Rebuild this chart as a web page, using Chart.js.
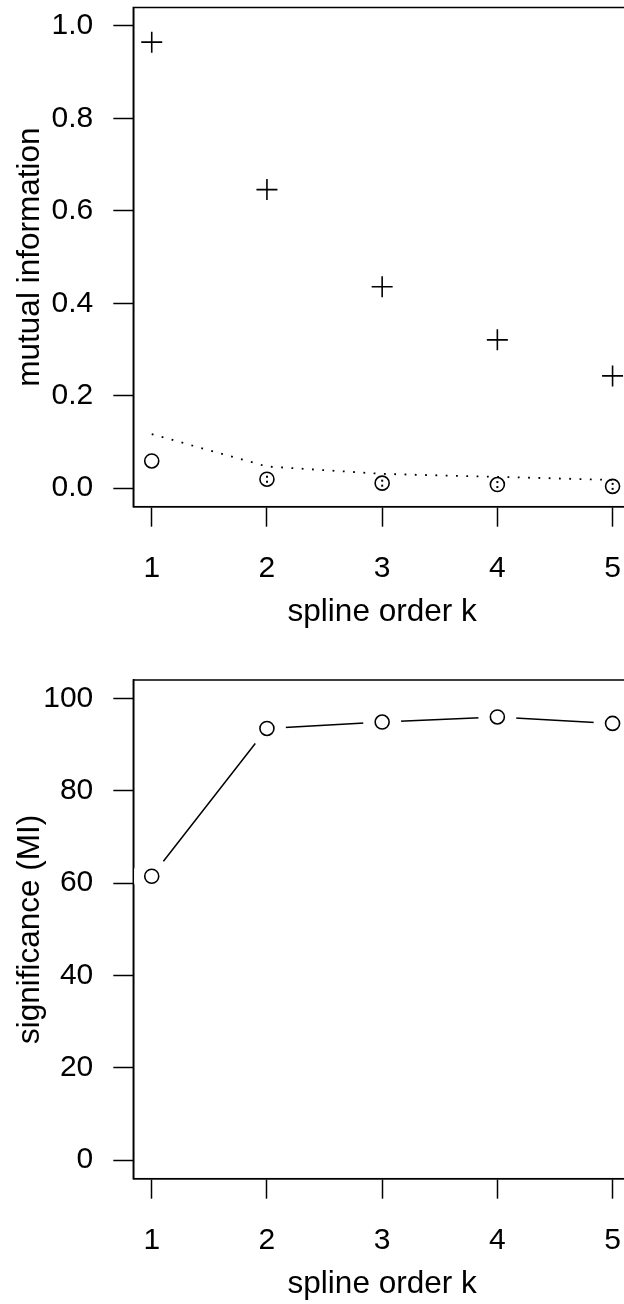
<!DOCTYPE html>
<html>
<head>
<meta charset="utf-8">
<script src="https://cdn.jsdelivr.net/npm/chart.js@4/dist/chart.umd.min.js"></script>
<style>
  html, body { margin: 0; padding: 0; background: #fff; overflow: hidden; width: 624px; height: 1304px; }
  .panel { position: absolute; left: 0; width: 660px; height: 672px; }
  #panelMI { top: 0; }
  #panelSig { top: 672px; }
  canvas { display: block; }
</style>
</head>
<body>
<div class="panel" id="panelMI"><canvas id="miChart" width="660" height="672"></canvas></div>
<div class="panel" id="panelSig"><canvas id="sigChart" width="660" height="672"></canvas></div>
<script>
// spline order k on the x axis
const splineOrders = [1, 2, 3, 4, 5];
const xTicks = [1, 2, 3, 4, 5];

// upper panel: mutual information
const miValues     = [0.965, 0.646, 0.436, 0.321, 0.243];   // "+" marks
const miShuffled   = [0.059, 0.0195, 0.011, 0.008, 0.004];  // open circles
const miSpread     = [null, 0.0195, 0.011, 0.008, 0.004];   // ":" marks
const miThreshold  = [0.117, 0.047, 0.031, 0.0245, 0.018];  // dotted line
const miTicks      = [0, 0.2, 0.4, 0.6, 0.8, 1.0];

// lower panel: significance of the MI
const significance = [61.5, 93.5, 94.9, 96.0, 94.6];
const sigTicks     = [0, 20, 40, 60, 80, 100];

const FAMILY = "'Liberation Sans', Arial, Helvetica, sans-serif";
const TICK_FONT = { family: FAMILY, size: 30 };
const TITLE_FONT = { family: FAMILY, size: 31.5 };
const INK = '#000';

// ":" glyph used as a point marker
const colonMark = document.createElement('canvas');
colonMark.width = 4; colonMark.height = 9;
(function () {
  const g = colonMark.getContext('2d');
  g.fillStyle = INK;
  g.fillRect(1, 1, 2, 2);
  g.fillRect(1, 6, 2, 2);
})();

// frame around the plotting region
const framePlugin = {
  id: 'frame',
  afterDraw(chart) {
    const { ctx, chartArea: a } = chart;
    ctx.save();
    ctx.strokeStyle = INK;
    ctx.lineWidth = 1.5;
    ctx.strokeRect(a.left, a.top, a.right - a.left, a.bottom - a.top);
    ctx.restore();
  }
};

function noPad(s) { s.paddingTop = 0; s.paddingBottom = 0; s.paddingLeft = 0; s.paddingRight = 0; }

function xScale() {
  return {
    type: 'linear',
    min: 0.84, max: 5.16,
    afterBuildTicks: s => { s.ticks = xTicks.map(v => ({ value: v })); },
    afterFit: s => { s.height = 165.3; noPad(s); },
    ticks: { font: TICK_FONT, color: INK, padding: 24, maxRotation: 0, callback: v => String(v) },
    grid: { drawOnChartArea: false, drawTicks: true, tickLength: 20, tickColor: INK, tickWidth: 1.5 },
    border: { display: true, color: INK, width: 1.5 },
    title: { display: true, text: 'spline order k', font: TITLE_FONT, color: INK, padding: { top: 0, bottom: 41.1 } }
  };
}

function yScale(min, max, ticks, title, fmt) {
  return {
    type: 'linear',
    min: min, max: max,
    afterBuildTicks: s => { s.ticks = ticks.map(v => ({ value: v })); },
    afterFit: s => { s.width = 133.3; noPad(s); },
    ticks: { font: TICK_FONT, color: INK, padding: 20, callback: fmt },
    grid: { drawOnChartArea: false, drawTicks: true, tickLength: 20, tickColor: INK, tickWidth: 1.5 },
    border: { display: true, color: INK, width: 1.5 },
    title: { display: true, text: title, font: TITLE_FONT, color: INK, padding: { top: 11.1, bottom: 0 } }
  };
}

function baseOptions(topPad) {
  return {
    responsive: false,
    animation: false,
    devicePixelRatio: 1,
    layout: { autoPadding: false, padding: { left: 0, top: topPad, right: 29, bottom: 0 } },
    plugins: { legend: { display: false }, tooltip: { enabled: false } },
    events: []
  };
}

const pts = arr => splineOrders.map((k, i) => ({ x: k, y: arr[i] }));

new Chart(document.getElementById('miChart'), {
  type: 'scatter',
  data: {
    datasets: [
      { data: pts(miValues), pointStyle: 'cross', pointRadius: 10.5, borderColor: INK, borderWidth: 1.6, showLine: false },
      { data: pts(miShuffled), pointStyle: 'circle', pointRadius: 7, borderColor: INK, backgroundColor: 'rgba(0,0,0,0)', borderWidth: 1.6, showLine: false },
      { data: pts(miSpread), pointStyle: colonMark, pointRadius: 4, showLine: false },
      { data: pts(miThreshold), showLine: true, pointRadius: 0, borderColor: INK, borderWidth: 1.8, borderDash: [1.8, 8.5], borderCapStyle: 'butt', tension: 0 }
    ]
  },
  options: Object.assign(baseOptions(7.5), {
    scales: {
      x: xScale(),
      y: yScale(-0.04, 1.04, miTicks, 'mutual information', v => v.toFixed(1))
    }
  }),
  plugins: [framePlugin]
});

new Chart(document.getElementById('sigChart'), {
  type: 'scatter',
  data: {
    datasets: [
      { data: pts(significance), pointStyle: 'circle', pointRadius: 7, borderColor: INK, backgroundColor: 'rgba(0,0,0,0)', borderWidth: 1.6, showLine: false },
      // connecting line; white discs leave the gaps around each point
      { data: pts(significance), showLine: true, borderColor: INK, borderWidth: 1.5, tension: 0,
        pointStyle: 'circle', pointRadius: 19, pointBorderWidth: 0, pointBackgroundColor: '#fff' }
    ]
  },
  options: Object.assign(baseOptions(8), {
    scales: {
      x: xScale(),
      y: yScale(-4, 104, sigTicks, 'significance (MI)', v => String(v))
    }
  }),
  plugins: [framePlugin]
});
</script>
</body>
</html>
